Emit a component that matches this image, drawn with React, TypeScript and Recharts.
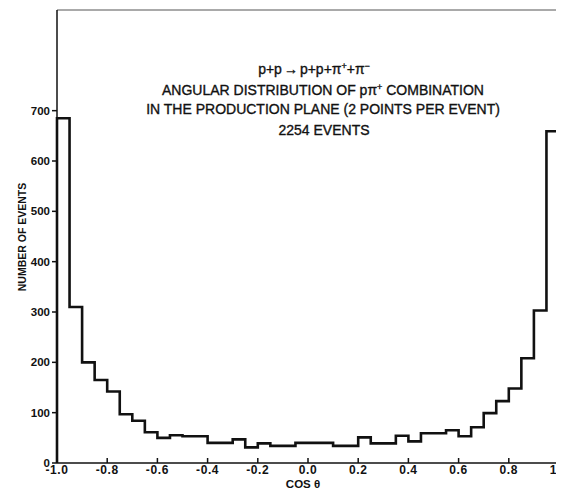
import { Line, LineChart, ReferenceLine, XAxis, YAxis } from "recharts";

// histogram of cos θ, 40 bins of 0.05 from -1.0 to 1.0
const BIN_START = -1.0;
const BIN_WIDTH = 0.05;

const COUNTS = [
  685, 310, 200, 165, 142, 97, 84, 61, 50, 55,
  53, 53, 40, 40, 47, 31, 39, 34, 34, 40,
  40, 40, 34, 34, 51, 39, 39, 54, 43, 59,
  59, 65, 53, 71, 99, 123, 148, 208, 303, 659,
];

const X_TICKS = [-1, -0.8, -0.6, -0.4, -0.2, 0, 0.2, 0.4, 0.6, 0.8, 1];
const Y_TICKS = [0, 100, 200, 300, 400, 500, 600, 700];
const Y_MAX = 900;

const INK = "#111";
const FONT = "'Liberation Sans', Arial, sans-serif";

// outline points for a stepAfter line: rise at the left edge, drop at the right edge
const lastEdge = BIN_START + COUNTS.length * BIN_WIDTH;
const steps = [
  { x: BIN_START, n: 0 },
  ...COUNTS.map((n, i) => ({ x: BIN_START + i * BIN_WIDTH, n })),
  { x: lastEdge, n: COUNTS[COUNTS.length - 1] },
  { x: lastEdge, n: 0 },
];

function XTick({ x, y, payload }: any) {
  const label = Number(payload.value).toFixed(1);
  return (
    <g>
      <line x1={x} x2={x} y1={y} y2={y - 5} stroke={INK} strokeWidth={1.5} />
      <text
        x={x}
        y={y + 11}
        textAnchor="middle"
        fill={INK}
        fontSize={12}
        fontWeight="bold"
        fontFamily={FONT}
        letterSpacing={0.6}
      >
        {label}
      </text>
    </g>
  );
}

function Titles() {
  const common = {
    textAnchor: "middle" as const,
    fill: INK,
    stroke: INK,
    strokeWidth: 0.35,
    fontFamily: FONT,
    fontSize: 14,
  };
  return (
    <svg
      width={556}
      height={481}
      style={{ position: "absolute", left: 0, top: 0, pointerEvents: "none" }}
    >
      <text x={306} y={66} {...common}>
        p+p
        <tspan dx={2}>→</tspan>
        <tspan dx={2}>p+p+π</tspan>
        <tspan dy={-5} fontSize={9}>+</tspan>
        <tspan dy={5}>+π</tspan>
        <tspan dy={-5} fontSize={9}>−</tspan>
      </text>
      <text x={315} y={87} {...common}>
        ANGULAR DISTRIBUTION OF pπ
        <tspan dy={-5} fontSize={9}>+</tspan>
        <tspan dy={5}> COMBINATION</tspan>
      </text>
      <text x={315} y={106} {...common}>
        IN THE PRODUCTION PLANE (2 POINTS PER EVENT)
      </text>
      <text x={316} y={127} {...common}>
        2254 EVENTS
      </text>
      <text
        x={14}
        y={229}
        transform="rotate(-90 14 229)"
        textAnchor="middle"
        dominantBaseline="central"
        fill={INK}
        fontFamily={FONT}
        fontSize={10.5}
        fontWeight="bold"
      >
        NUMBER OF EVENTS
      </text>
      <text
        x={295}
        y={480}
        textAnchor="middle"
        fill={INK}
        fontFamily={FONT}
        fontSize={11.5}
        fontWeight="bold"
      >
        COS θ
      </text>
    </svg>
  );
}

export default function App() {
  return (
    <div style={{ position: "relative", width: 556, height: 481, background: "#fff" }}>
      <LineChart
        width={556}
        height={481}
        data={steps}
        margin={{ top: 2, right: 5, left: 0, bottom: 0 }}
      >
        <XAxis
          dataKey="x"
          type="number"
          domain={[-1, 1]}
          ticks={X_TICKS}
          interval={0}
          height={26}
          tickSize={0}
          tickMargin={0}
          tick={<XTick />}
          axisLine={{ stroke: INK, strokeWidth: 1.5 }}
        />
        <YAxis
          type="number"
          domain={[0, Y_MAX]}
          ticks={Y_TICKS}
          interval={0}
          width={49}
          tickSize={5}
          tickMargin={2}
          tickLine={{ stroke: INK, strokeWidth: 1.5 }}
          axisLine={{ stroke: INK, strokeWidth: 1.5 }}
          tick={{ fill: INK, fontSize: 11.5, fontWeight: "bold", fontFamily: FONT }}
        />
        <ReferenceLine y={Y_MAX} stroke="#555" strokeWidth={1} />
        <ReferenceLine x={1} stroke={INK} strokeWidth={1.3} />
        <Line
          type="stepAfter"
          dataKey="n"
          stroke={INK}
          strokeWidth={2.6}
          dot={false}
          activeDot={false}
          isAnimationActive={false}
        />
      </LineChart>
      <Titles />
    </div>
  );
}
